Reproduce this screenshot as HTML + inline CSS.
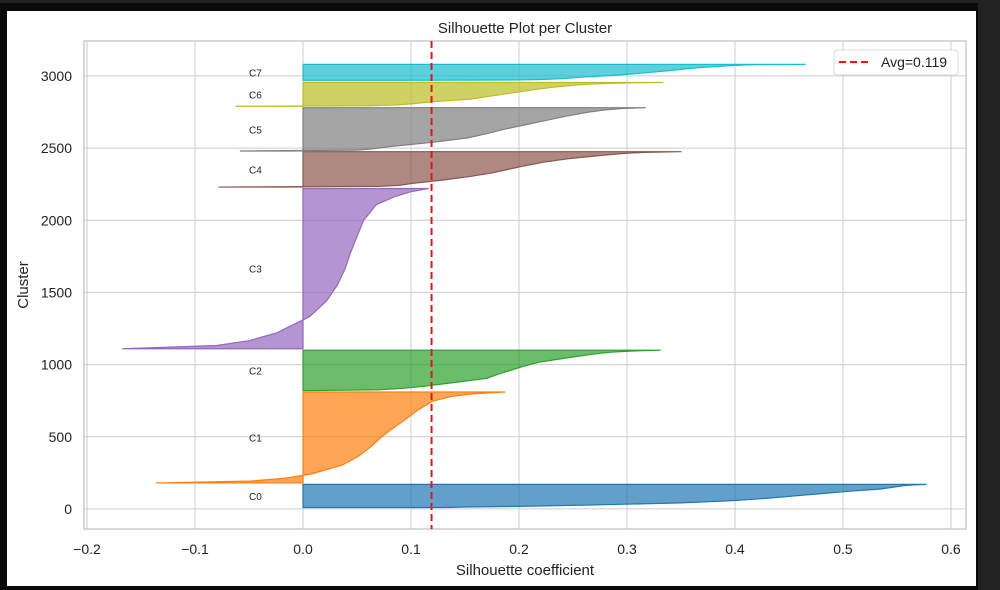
<!DOCTYPE html>
<html><head><meta charset="utf-8">
<style>
html,body{margin:0;padding:0;background:#222;width:1000px;height:590px;overflow:hidden}
#frame{position:absolute;left:0;top:3px;width:978px;height:587px;background:#0a0a0a}
#panel{position:absolute;left:7px;top:11px;width:969px;height:575px;background:#fff}
svg{position:absolute;left:0;top:0}
text{font-family:"Liberation Sans",Arial,sans-serif;fill:#222}
</style></head>
<body>
<div id="frame"></div>
<div id="panel"></div>
<svg id="chart" width="1000" height="590"></svg>
<script>
const clusterNames = ["C0","C1","C2","C3","C4","C5","C6","C7"];
const clusterStarts = [10,180,820,1110,2230,2480,2790,2970];
const clusterSizes = [160,630,280,1110,245,300,165,110];
const rankFractions = [0,0.02,0.05,0.1,0.2,0.3,0.4,0.5,0.6,0.7,0.8,0.9,0.95,0.98,1];
const c0Values = [0.13,0.15,0.2,0.26,0.35,0.40,0.43,0.455,0.48,0.505,0.535,0.55,0.557,0.565,0.577];
const c1Values = [-0.136,-0.05,-0.018,0.008,0.037,0.052,0.063,0.072,0.083,0.095,0.106,0.12,0.137,0.156,0.187];
const c2Values = [0.01,0.07,0.09,0.11,0.14,0.17,0.18,0.192,0.204,0.218,0.242,0.268,0.285,0.305,0.331];
const c3Values = [-0.167,-0.08,-0.05,-0.024,0.006,0.022,0.032,0.039,0.044,0.05,0.056,0.068,0.085,0.1,0.116];
const c4Values = [-0.078,0.07,0.09,0.1,0.13,0.155,0.175,0.19,0.205,0.222,0.245,0.278,0.296,0.315,0.35];
const c5Values = [-0.058,0.05,0.065,0.08,0.12,0.152,0.17,0.186,0.205,0.224,0.243,0.265,0.28,0.295,0.317];
const c6Values = [-0.062,0.06,0.085,0.1,0.122,0.155,0.17,0.185,0.2,0.215,0.232,0.255,0.275,0.3,0.333];
const c7Values = [0.1,0.2,0.22,0.24,0.26,0.285,0.305,0.322,0.338,0.352,0.368,0.39,0.405,0.42,0.465];
const avgScore = 0.119;
const xTicks = [-0.2,-0.1,0.0,0.1,0.2,0.3,0.4,0.5,0.6];
const xTickLabels = ["\u22120.2","\u22120.1","0.0","0.1","0.2","0.3","0.4","0.5","0.6"];
const yTicks = [0,500,1000,1500,2000,2500,3000];

const allValues=[c0Values,c1Values,c2Values,c3Values,c4Values,c5Values,c6Values,c7Values];
const colors=["#1f77b4","#ff7f0e","#2ca02c","#9467bd","#8c564b","#7f7f7f","#bcbd22","#17becf"];
const L=84,R=966,T=41,B=529;
const X0=-0.2028,X1=0.6139,Y0=-139,Y1=3242;
const sx=v=>L+(v-X0)/(X1-X0)*(R-L);
const sy=v=>B-(v-Y0)/(Y1-Y0)*(B-T);
const NS="http://www.w3.org/2000/svg";
const svg=document.getElementById("chart");
function mk(tag,attrs,parent){const e=document.createElementNS(NS,tag);for(const k in attrs)e.setAttribute(k,attrs[k]);(parent||svg).appendChild(e);return e;}

xTicks.forEach((t,i)=>{
  const g=mk("line",{x1:sx(t),x2:sx(t),y1:T,y2:B,stroke:"#cccccc","stroke-width":1});
  
  
  const tx=mk("text",{x:sx(t),y:B+25,"text-anchor":"middle","font-size":14});
  tx.textContent=xTickLabels[i];
  
  
});
yTicks.forEach(t=>{
  const g=mk("line",{x1:L,x2:R,y1:sy(t),y2:sy(t),stroke:"#cccccc","stroke-width":1});
  
  
  const tx=mk("text",{x:L-12,y:sy(t)+5,"text-anchor":"end","font-size":14});
  tx.textContent=String(t);
  
  
});
const frame=mk("rect",{x:L,y:T,width:R-L,height:B-T,fill:"none",stroke:"#cccccc","stroke-width":1.5});



allValues.forEach((vals,ci)=>{
  const start=clusterStarts[ci],size=clusterSizes[ci];
  let d="M"+sx(0)+","+sy(start);
  vals.forEach((v,k)=>{const yy=start+rankFractions[k]*size;d+=" L"+sx(v)+","+sy(yy);});
  d+=" L"+sx(0)+","+sy(start+size)+" Z";
  const p=mk("path",{d:d,fill:colors[ci],"fill-opacity":0.7,stroke:colors[ci],"stroke-width":1.2,"stroke-linejoin":"round"});
  
  
  const lb=mk("text",{x:sx(-0.05),y:sy(start+size/2)+4,"font-size":10});
  lb.textContent=clusterNames[ci];
  
  
});

const avg=mk("line",{x1:sx(avgScore),x2:sx(avgScore),y1:T,y2:B,stroke:"#ee1111","stroke-width":2,"stroke-dasharray":"7,4"});



const lg=mk("rect",{x:834,y:50,width:124,height:25,rx:3,fill:"#fff","fill-opacity":0.85,stroke:"#d8d8d8"});


const ll=mk("line",{x1:839,x2:868,y1:62,y2:62,stroke:"#ee1111","stroke-width":2,"stroke-dasharray":"7,4"});


const lt=mk("text",{x:881,y:67,"font-size":14});
lt.textContent="Avg="+avgScore.toFixed(3);



const ti=mk("text",{x:(L+R)/2,y:33,"text-anchor":"middle","font-size":15});
ti.textContent="Silhouette Plot per Cluster";


const xl=mk("text",{x:(L+R)/2,y:575,"text-anchor":"middle","font-size":15});
xl.textContent="Silhouette coefficient";


const yl=mk("text",{x:28,y:285,"text-anchor":"middle","font-size":15,transform:"rotate(-90 28 285)"});
yl.textContent="Cluster";


</script>
</body></html>
